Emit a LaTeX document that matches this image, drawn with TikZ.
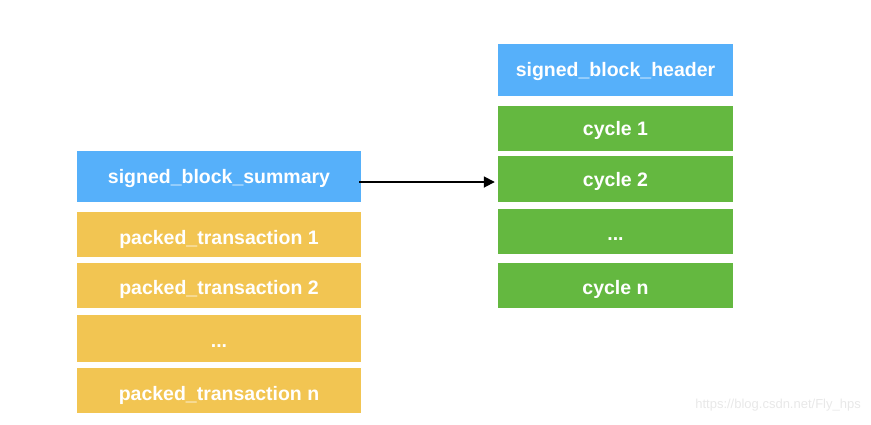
\documentclass[tikz,border=0pt]{standalone}
\usepackage{fontspec}
\setmainfont{Liberation Sans}
\usetikzlibrary{arrows.meta}
\definecolor{hdrblue}{RGB}{86,176,250}
\definecolor{txyellow}{RGB}{242,197,82}
\definecolor{cycgreen}{RGB}{100,184,64}
\definecolor{wmgray}{RGB}{232,232,232}
\tikzset{
  box/.style={draw=none, inner sep=0pt, text=white, text depth=0pt, text height=16pt,
    font=\fontsize{19.5}{22}\selectfont\bfseries},
  bl/.style={text height=#1},
  leftbox/.style={box, minimum width=284pt},
  rightbox/.style={box, minimum width=235pt},
  conn/.style={draw=black, line width=1.8pt, -{Triangle[length=11pt,width=11pt]}}
}
\begin{document}
\begin{tikzpicture}[x=1pt,y=-1pt]
\useasboundingbox (0,0) rectangle (871,424);
% left column
\node[leftbox, fill=hdrblue, minimum height=51pt, bl=13pt] (sum) at (219,176.5) {signed\_block\_summary};
\node[leftbox, fill=txyellow, minimum height=45pt, bl=20pt] (p1) at (219,234.5) {packed\_transaction 1};
\node[leftbox, fill=txyellow, minimum height=45pt, bl=17pt] (p2) at (219,285.5) {packed\_transaction 2};
\node[leftbox, fill=txyellow, minimum height=47pt, bl=18pt] (pd) at (219,338.5) {...};
\node[leftbox, fill=txyellow, minimum height=45pt, bl=19pt] (pn) at (219,390.5) {packed\_transaction n};
% right column
\node[rightbox, fill=hdrblue, minimum height=52pt, bl=13.4pt] (hdr) at (615.5,70) {signed\_block\_header};
\node[rightbox, fill=cycgreen, minimum height=45pt, bl=13pt] (c1) at (615.5,128.5) {cycle 1};
\node[rightbox, fill=cycgreen, minimum height=46pt, bl=15.4pt] (c2) at (615.5,179) {cycle 2};
\node[rightbox, fill=cycgreen, minimum height=45pt, bl=18pt] (cd) at (615.5,231.5) {...};
\node[rightbox, fill=cycgreen, minimum height=45pt, bl=17.6pt] (cn) at (615.5,285.5) {cycle n};
% connector
\draw[conn, shorten <=-2pt, shorten >=3pt] (sum.east |- 0,182) -- (c2.west |- 0,182);
% watermark
\node[text=wmgray, font=\fontsize{13}{15}\selectfont, anchor=east, inner sep=0pt] (wm) at (861,405) {https://blog.csdn.net/Fly\_hps};
\end{tikzpicture}
\end{document}
